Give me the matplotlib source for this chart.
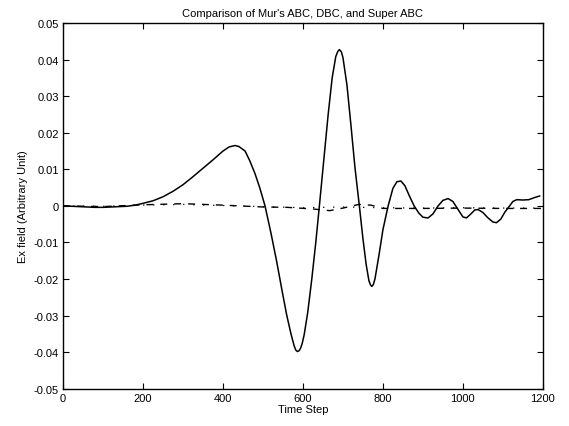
import numpy as np
import matplotlib
matplotlib.use('Agg')
import matplotlib.pyplot as plt

plt.rcParams['font.family'] = ['Liberation Sans', 'DejaVu Sans']

# Mur's ABC (solid)
mur_t = [0, 20, 40, 60, 80, 100, 120, 140, 160, 180, 200, 225, 250, 275, 300,
         325, 350, 375, 400, 415, 430, 440, 455, 467, 480, 492, 505, 520, 534,
         547, 559, 570, 578, 582, 586, 590, 594, 598, 603, 612, 622, 632, 641,
         652, 663, 673, 682, 687, 691, 696, 700, 710, 720, 730, 741, 750, 758,
         765, 769, 772, 776, 780, 790, 800, 813, 825, 835, 845, 855, 865, 878,
         890, 900, 913, 925, 938, 950, 963, 975, 988, 1000, 1009, 1020, 1030,
         1038, 1050, 1062, 1075, 1084, 1095, 1105, 1117, 1125, 1135, 1150,
         1165, 1180, 1192]
mur_e = [0.0, -0.0001, -0.0002, -0.0003, -0.0004, -0.0004, -0.0003, -0.0002,
         -0.0001, 0.0002, 0.0007, 0.0014, 0.0025, 0.0040, 0.0058, 0.0080,
         0.0103, 0.0126, 0.0150, 0.0161, 0.0165, 0.0162, 0.0150, 0.0123,
         0.0088, 0.0049, 0.0, -0.0075, -0.0151, -0.0228, -0.0297, -0.0350,
         -0.0383, -0.0394, -0.0398, -0.0396, -0.0389, -0.0376, -0.0352,
         -0.0290, -0.0200, -0.0100, 0.0, 0.0125, 0.0250, 0.0350, 0.0408,
         0.0422, 0.0427, 0.0421, 0.0405, 0.0330, 0.0220, 0.0105, 0.0, -0.0090,
         -0.0160, -0.0205, -0.0216, -0.0220, -0.0215, -0.0200, -0.0135,
         -0.0065, 0.0, 0.0048, 0.0066, 0.0068, 0.0055, 0.0030, 0.0, -0.0020,
         -0.0031, -0.0033, -0.0022, 0.0, 0.0015, 0.0020, 0.0012, -0.0010,
         -0.0030, -0.0033, -0.0022, -0.0011, -0.0010, -0.0018, -0.0032,
         -0.0044, -0.0046, -0.0036, -0.0017, 0.0, 0.0012, 0.0017, 0.0016,
         0.0017, 0.0023, 0.0027]

# DBC (dashed) and Super ABC (dotted), both stay near zero
dbc_t = [0, 100, 200, 300, 400, 500, 560, 620, 667, 700, 740, 770, 800, 900,
         1000, 1100, 1200]
dbc_e = [0.0, -0.0002, 0.0003, 0.0006, 0.0002, -0.0003, -0.0004, -0.0008,
         -0.0013, -0.0006, 0.0004, 0.0002, -0.0007, -0.0007, -0.0006, -0.0007,
         -0.0007]
sup_t = [0, 100, 200, 300, 400, 500, 600, 700, 800, 900, 1000, 1100, 1200]
sup_e = [0.0, -0.0001, 0.0002, 0.0004, 0.0001, -0.0002, -0.0005, -0.0003,
         -0.0005, -0.0006, -0.0005, -0.0006, -0.0006]

xticks = [0, 200, 400, 600, 800, 1000, 1200]
yticks = [0.05, 0.04, 0.03, 0.02, 0.01, 0, -0.01, -0.02, -0.03, -0.04, -0.05]
ytick_labels = ['0.05', '0.04', '0.03', '0.02', '0.01', '0', '-0.01', '-0.02',
                '-0.03', '-0.04', '-0.05']

fig = plt.figure(figsize=(5.69, 4.27), dpi=100)
ax = fig.add_axes([0.111, 0.087, 0.843, 0.857])

ax.plot(mur_t, mur_e, color='black', lw=1.1, ls='-')
ax.plot(dbc_t, dbc_e, color='black', lw=1.0, ls=(0, (5, 5)))
ax.plot(sup_t, sup_e, color='black', lw=0.9, ls=(0, (1, 7)))

ax.set_xlim(0, 1200)
ax.set_ylim(-0.05, 0.05)
ax.set_xticks(xticks)
ax.set_yticks(yticks)
ax.set_yticklabels(ytick_labels)
ax.tick_params(direction='in', top=True, right=True, length=4, width=0.8,
               labelsize=8, pad=3)
for s in ax.spines.values():
    s.set_linewidth(1.0)

ax.set_title("Comparison of Mur's ABC, DBC, and Super ABC", fontsize=8, pad=5)
ax.set_xlabel('Time Step', fontsize=8, labelpad=1)
ax.set_ylabel('Ex field (Arbitrary Unit)', fontsize=8, labelpad=4)

fig.savefig('out.png', dpi=100)
